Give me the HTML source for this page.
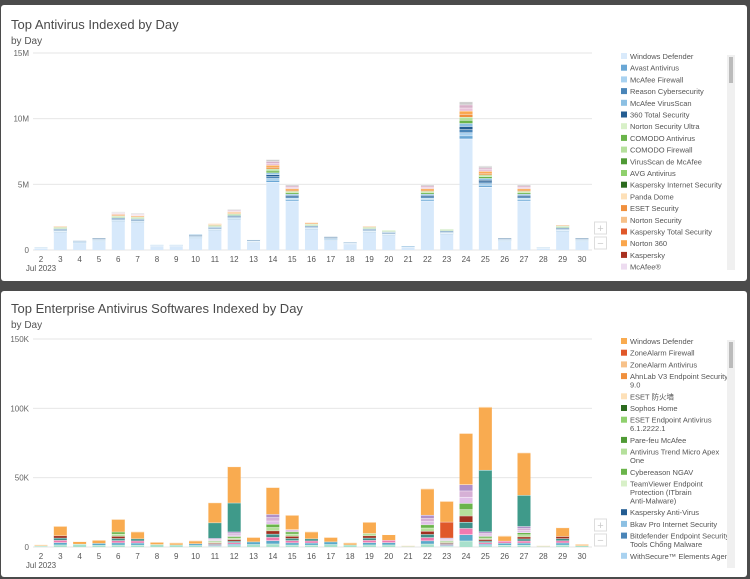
<!DOCTYPE html>
<html><head><meta charset="utf-8">
<style>
body{margin:0;width:750px;height:579px;background:#4b4b4b;overflow:hidden;font-family:"Liberation Sans","Noto Sans CJK SC",sans-serif}
.p{position:absolute;left:1px;width:746px;background:#fff;border-radius:3px}
svg{position:absolute;left:0;top:0}
</style></head><body>
<div class="p" style="top:5px;height:276px"></div>
<div class="p" style="top:291px;height:286px"></div>
<svg id="s" width="750" height="579" font-family="Liberation Sans, Noto Sans CJK SC, sans-serif"></svg>
<script>
(function(){
const S=document.getElementById('s');let h='';
function T(x,y,t,sz,c,a){h+=`<text x="${x}" y="${y}" font-size="${sz}" fill="${c}" ${a||''}>${t}</text>`}
function R(x,y,w,hh,c){h+=`<rect x="${x}" y="${y}" width="${w}" height="${hh}" fill="${c}"/>`}
function chart(o){
 T(11,o.ty,o.title,13,'#4a4a4a');T(11,o.ty+15,'by Day',10,'#555');
 for(let i=0;i<4;i++){let y=o.y0-(o.y0-o.y15)*i/3;R(33,y-0.5,559,1,'#e6e6e6');T(29,y+3,o.lab[i],8,'#666','text-anchor="end"')}
 for(let d=0;d<29;d++){let cx=41+d*19.32;T(cx,o.y0+12,d+2,8,'#555','text-anchor="middle"');
  let v=o.vals[d],tot=v*o.k;
  let segs=o.seg(d,tot);let y=o.y0;
  for(const [hh,c] of segs){R(cx-6.5,y-hh,13,hh,c);y-=hh;R(cx-6.5,y,13,0.5,'#fff')}
 }
 T(41,o.y0+21,'Jul 2023',8,'#555','text-anchor="middle"');
 h+=`<rect x="594.5" y="${o.zb}" width="12" height="12" fill="#fff" stroke="#ddd"/><rect x="594.5" y="${o.zb+15}" width="12" height="12" fill="#fff" stroke="#ddd"/>`;
 T(600.5,o.zb+10,'+',11,'#ccc','text-anchor="middle"');T(600.5,o.zb+25,'−',11,'#ccc','text-anchor="middle"');
 let y=o.ly;for(const [t,c] of o.leg){R(621,y-6,6,6,c);let ls=t.split('|');ls.forEach((l,i)=>T(630,y+i*8.5,l,7.5,'#555'));y+=11.7+(ls.length-1)*8.5}
 R(727,o.sy,8,o.sh,'#f0f0f0');R(729,o.sy+2,4,26,'#bbb');
}
chart({ty:29,title:'Top Antivirus Indexed by Day',y0:250,y15:53,k:197/15,lab:['0','5M','10M','15M'],
 vals:[0.2,1.8,0.7,0.9,2.9,2.8,0.4,0.4,1.2,2.0,3.1,0.8,6.9,5.0,2.1,1.0,0.6,1.8,1.5,0.3,5.0,1.6,11.3,6.4,0.9,5.0,0.2,1.9,0.9],
 seg:(d,t)=>{let r=[[t*0.75,'#d7e9fb']];let rest=t*0.25;let cs=['#6aa7d5','#a9d2f0','#4a85b8','#245d92','#8cc0e3','#6ab44a','#b5e09c','#f0903d','#faa64d','#e8c0d8','#d8b0c8','#cccccc'];let n=Math.max(1,Math.min(cs.length,Math.round(t/3)));for(let i=0;i<n;i++)r.push([rest/n,cs[i]]);return r},
 zb:222,ly:59,sy:55,sh:215,
 leg:[['Windows Defender','#d9eafb'],['Avast Antivirus','#6aa7d5'],['McAfee Firewall','#a9d2f0'],['Reason Cybersecurity','#4a85b8'],['McAfee VirusScan','#8cc0e3'],['360 Total Security','#245d92'],['Norton Security Ultra','#d8f0c8'],['COMODO Antivirus','#6ab44a'],['COMODO Firewall','#b5e09c'],['VirusScan de McAfee','#4f9a35'],['AVG Antivirus','#8fd06d'],['Kaspersky Internet Security','#2c6b1f'],['Panda Dome','#fde0b8'],['ESET Security','#f0903d'],['Norton Security','#f7c189'],['Kaspersky Total Security','#e0582a'],['Norton 360','#faa64d'],['Kaspersky','#a83020'],['McAfee®','#eddcf0']]});
const teal={9:0.35,10:0.36,23:0.44,25:0.33};
chart({ty:313,title:'Top Enterprise Antivirus Softwares Indexed by Day',y0:547,y15:339,k:208/150,lab:['0','50K','100K','150K'],
 vals:[1.5,15,4,5,20,11,3.5,3,4.5,32,58,7,43,23,11,7,3,18,9,1,42,33,82,101,8,68,1,14,2],
 seg:(d,t)=>{let r=[];let o=t*0.45;let tl=(teal[d]||0)*t;let red=d==21?t*0.35:0;let rest=t-o-tl-red;let cs=['#a8e0cc','#5aa9c9','#f07ab0','#3d8f88','#a03020','#b5e09c','#6ab44a','#e0c0e8','#d6b0d6','#b090c8'];let n=Math.max(1,Math.min(cs.length,Math.round(t/4)));for(let i=0;i<n;i++)r.push([rest/n,cs[i]]);if(red)r.push([red,'#e0582a']);if(tl)r.push([tl,'#3f9a8a']);r.push([o,'#f9ab50']);return r},
 zb:519,ly:344,sy:340,sh:228,
 leg:[['Windows Defender','#f9ab50'],['ZoneAlarm Firewall','#e0582a'],['ZoneAlarm Antivirus','#f7c189'],['AhnLab V3 Endpoint Security|9.0','#f0903d'],['ESET 防火墙','#fde0b8'],['Sophos Home','#2c6b1f'],['ESET Endpoint Antivirus|6.1.2222.1','#8fd06d'],['Pare-feu McAfee','#4f9a35'],['Antivirus Trend Micro Apex|One','#b5e09c'],['Cybereason NGAV','#6ab44a'],['TeamViewer Endpoint|Protection (ITbrain|Anti-Malware)','#d8f0c8'],['Kaspersky Anti-Virus','#245d92'],['Bkav Pro Internet Security','#8cc0e3'],['Bitdefender Endpoint Security|Tools Chống Malware','#4a85b8'],['WithSecure™ Elements Agent','#a9d2f0']]});
S.innerHTML=h;
})();
</script>
</body></html>
